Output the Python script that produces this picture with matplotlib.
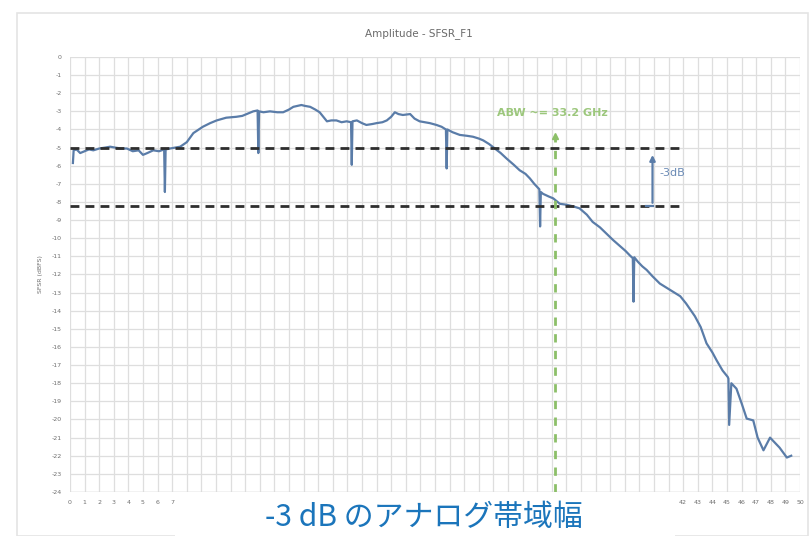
import matplotlib.pyplot as plt
from matplotlib.patches import Rectangle

plt.rcParams['axes.unicode_minus'] = False

# measured SFSR vs frequency (GHz, dBFS)
freq = [0.2, 0.25, 0.45, 0.7, 1.0, 1.3, 1.6, 2.0, 2.4, 2.75, 3.1, 3.5, 3.9, 4.3, 4.7, 5.0, 5.3, 5.7,
        6.1, 6.45, 6.5, 6.55, 6.85, 7.2, 7.55, 8.0, 8.45, 9.1, 9.6, 10.05, 10.7, 11.4, 11.8, 12.1, 12.55,
        12.85, 12.9, 12.95, 13.25, 13.7, 14.2, 14.6, 15.0, 15.3, 15.85, 16.1, 16.45, 16.8, 17.1, 17.6,
        17.9, 18.25, 18.6, 18.95, 19.25, 19.3, 19.35, 19.65, 20.0, 20.3, 20.7, 21.0, 21.4, 21.7, 22.0,
        22.25, 22.5, 22.8, 23.3, 23.6, 23.95, 24.3, 24.65, 25.1, 25.45, 25.75, 25.8, 25.85, 26.2, 26.7,
        27.2, 27.6, 28.0, 28.3, 28.7, 29.1, 29.5, 29.9, 30.4, 30.8, 31.2, 31.5, 31.8, 32.1, 32.15, 32.2,
        32.25, 32.4, 32.8, 33.1, 33.55, 34.0, 34.5, 34.9, 35.4, 35.8, 36.3, 36.75, 37.2, 37.7, 38.05,
        38.35, 38.55, 38.6, 38.65, 38.9, 39.2, 39.5, 39.9, 40.4, 40.9, 41.3, 41.8, 42.2, 42.8, 43.2,
        43.6, 44.0, 44.3, 44.7, 45.05, 45.1, 45.15, 45.3, 45.65, 46.0, 46.35, 46.8, 47.1, 47.5, 47.95,
        48.3, 48.6, 49.1, 49.4]
sfsr = [-5.85, -5.15, -5.1, -5.3, -5.2, -5.1, -5.15, -5.05, -5.0, -4.95, -5.0, -5.05, -5.05, -5.2, -5.15,
        -5.4, -5.3, -5.15, -5.2, -5.1, -7.45, -5.1, -5.05, -5.0, -4.95, -4.7, -4.2, -3.85, -3.65, -3.5,
        -3.35, -3.3, -3.25, -3.15, -3.0, -2.95, -5.3, -3.0, -3.05, -3.0, -3.05, -3.05, -2.9, -2.75, -2.65,
        -2.7, -2.75, -2.9, -3.05, -3.55, -3.5, -3.5, -3.6, -3.55, -3.6, -5.95, -3.55, -3.5, -3.65, -3.75,
        -3.7, -3.65, -3.6, -3.5, -3.3, -3.05, -3.15, -3.2, -3.15, -3.4, -3.55, -3.6, -3.65, -3.75, -3.85,
        -4.0, -6.15, -4.0, -4.15, -4.3, -4.35, -4.4, -4.5, -4.6, -4.8, -5.05, -5.3, -5.6, -5.95, -6.25,
        -6.45, -6.7, -7.0, -7.25, -7.3, -9.35, -7.45, -7.55, -7.7, -7.8, -8.1, -8.15, -8.25, -8.35, -8.7,
        -9.1, -9.4, -9.75, -10.1, -10.45, -10.7, -10.95, -11.1, -13.5, -11.05, -11.3, -11.55, -11.75,
        -12.1, -12.5, -12.75, -12.95, -13.2, -13.6, -14.3, -14.9, -15.8, -16.3, -16.75, -17.3, -17.65,
        -17.75, -20.3, -18.0, -18.3, -19.1, -19.95, -20.05, -21.0, -21.7, -21.0, -21.3, -21.55, -22.1, -22.0]

x_ticks = list(range(0, 51))
y_ticks = list(range(0, -25, -1))
# the caption sits over the middle x labels
x_labels = [str(v) if (v <= 7 or v >= 41) else '' for v in x_ticks]

upper_db = -5.0
lower_db = -8.2
abw = 33.2

fig = plt.figure(figsize=(8.11, 5.36), dpi=100)
fig.patches.append(Rectangle((0.021, 0.0), 0.975, 0.975, transform=fig.transFigure,
                             facecolor='white', edgecolor='#e4e4e4', lw=1.2, zorder=-1))

ax = fig.add_axes([0.0863, 0.0821, 0.9001, 0.8116])
ax.set_xlim(0, 50)
ax.set_ylim(-24, 0)
ax.set_xticks(x_ticks)
ax.set_xticklabels(x_labels)
ax.set_yticks(y_ticks)
ax.tick_params(length=0, labelsize=4.5, labelcolor='#6f6f6f', pad=6)
ax.grid(True, color='#dedede', lw=0.9)
ax.set_axisbelow(True)
for s in ax.spines.values():
    s.set_visible(False)
ax.axhline(-24, color='#d6d6d6', lw=1)
ax.set_ylabel('SFSR (dBFS)', fontsize=4.5, color='#6f6f6f', labelpad=6)

ax.plot(freq, sfsr, color='#5a7ca8', lw=1.6, zorder=3)

# -3 dB band
dash = (0, (3.2, 2.2))
ax.hlines([upper_db, lower_db], 0, 42, colors='#2e2e2e', lw=2, linestyles=[dash], zorder=4)
ax.annotate('', xy=(39.9, -5.25), xytext=(39.9, lower_db),
            arrowprops=dict(arrowstyle='-|>', color='#5a7ca8', lw=1.6, mutation_scale=8), zorder=5)
ax.plot([39.45, 39.9], [lower_db, lower_db], color='#5a7ca8', lw=1.6, zorder=5)
ax.text(40.35, -6.4, '-3dB', fontsize=8, color='#6a8ab5', va='center', ha='left')

# bandwidth marker
ax.plot([abw, abw], [-24, -4.45], color='#8cbf68', lw=2, linestyle=(0, (3, 3)), zorder=4)
ax.plot([abw], [-4.35], marker='^', color='#8cbf68', ms=5, zorder=4)
ax.text(29.25, -3.1, 'ABW ~= 33.2 GHz', fontsize=8, color='#9cc77c', fontweight='bold',
        va='center', ha='left')

fig.text(0.517, 0.938, 'Amplitude - SFSR_F1', fontsize=7.5, color='#6a6a6a', ha='center', va='center')

# caption over the middle of the x axis
fig.patches.append(Rectangle((175 / 811, 0.0), 500 / 811, 39 / 536, transform=fig.transFigure,
                             facecolor='white', edgecolor='none', zorder=10))
fig.text(0.523, 0.035, '-3 dB のアナログ帯域幅', fontsize=21.5, color='#1b75bb', ha='center', va='center',
         family=['Noto Sans CJK JP', 'DejaVu Sans'], zorder=11)

fig.savefig('out.png', dpi=100)
